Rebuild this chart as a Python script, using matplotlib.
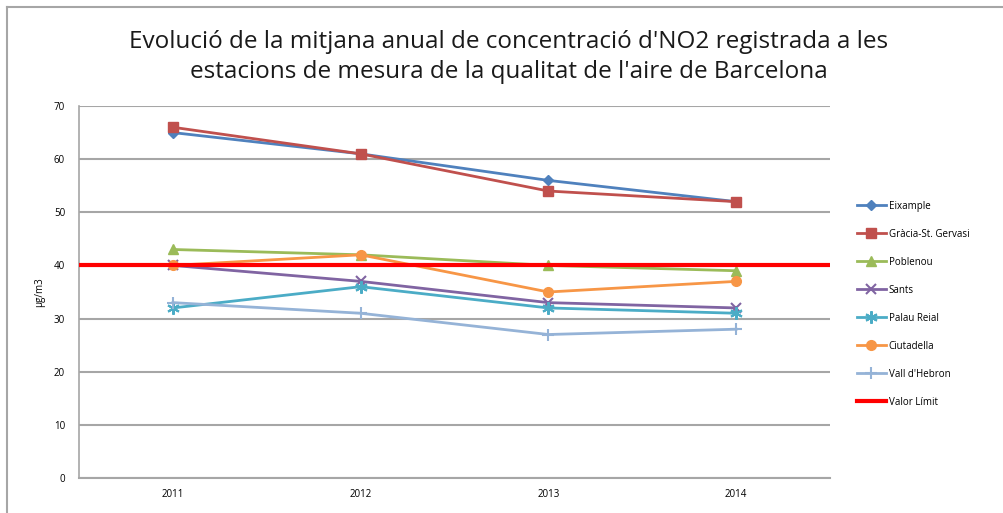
import matplotlib
matplotlib.use("Agg")
import matplotlib.pyplot as plt
from matplotlib.lines import Line2D

years = ["2011", "2012", "2013", "2014"]
eixample = [65, 61, 56, 52]
gracia = [66, 61, 54, 52]
poblenou = [43, 42, 40, 39]
sants = [40, 37, 33, 32]
palau_reial = [32, 36, 32, 31]
ciutadella = [40, 42, 35, 37]
vall_hebron = [33, 31, 27, 28]
valor_limit = 40

series = [
    ("Eixample", eixample, "#4F81BD", "D", 5),
    ("Gràcia-St. Gervasi", gracia, "#C0504D", "s", 7),
    ("Poblenou", poblenou, "#9BBB59", "^", 7),
    ("Sants", sants, "#8064A2", "x", 7),
    ("Palau Reial", palau_reial, "#4BACC6", (6, 2, 0), 9),
    ("Ciutadella", ciutadella, "#F79646", "o", 7),
    ("Vall d'Hebron", vall_hebron, "#95B3D7", "+", 9),
]

plt.rcParams['font.family'] = ['Open Sans', 'DejaVu Sans']

fig = plt.figure(figsize=(10.04, 5.13), dpi=100)
ax = fig.add_axes([79/1004, 1 - 478/513, (830-79)/1004, (478-106)/513])

x = list(range(len(years)))
for name, vals, col, mk, ms in series:
    ax.plot(x, vals, color=col, marker=mk, markersize=ms, linewidth=2.0,
            markeredgewidth=1.5 if mk in ("x", "+") or isinstance(mk, tuple) else 1,
            label=name, zorder=3)
ax.axhline(valor_limit, color="#FF0000", linewidth=3, zorder=4, label="Valor Límit")

ax.set_xlim(-0.5, len(years) - 0.5)
ax.set_ylim(0, 70)
ax.set_yticks(range(0, 71, 10))
ax.set_xticks(x)
ax.set_xticklabels(years)
ax.tick_params(axis='both', labelsize=7, colors="#000000", length=0, pad=8)
ax.tick_params(axis='y', pad=10)
ax.yaxis.grid(True, color="#A6A6A6", linewidth=1.5)
ax.set_axisbelow(True)
for s in ["top", "right"]:
    ax.spines[s].set_visible(False)
ax.spines["left"].set_color("#A6A6A6")
ax.spines["bottom"].set_color("#A6A6A6")
ax.spines["left"].set_linewidth(1.2)
ax.spines["bottom"].set_linewidth(1.5)
ax.set_ylabel("µg/m3", fontsize=7, labelpad=6)

handles, labels = ax.get_legend_handles_labels()
leg = fig.legend(handles, labels, loc="upper left", bbox_to_anchor=(848/1004, 1 - 192/513),
                 frameon=False, fontsize=7, labelspacing=1.75, handlelength=3.0,
                 handletextpad=0.3)

fig.text(509/1004, 1 - 57/513,
         "Evolució de la mitjana anual de concentració d'NO2 registrada a les\n"
         "estacions de mesura de la qualitat de l'aire de Barcelona",
         ha="center", va="center", fontsize=17.5, linespacing=1.3, color="#1a1a1a")

# outer border lines (top and left)
fig.add_artist(Line2D([7/1004, 1], [1 - 7/513, 1 - 7/513], color="#A6A6A6", linewidth=1.5))
fig.add_artist(Line2D([7/1004, 7/1004], [0, 1 - 7/513], color="#A6A6A6", linewidth=1.5))

fig.savefig("out.png", dpi=100)
